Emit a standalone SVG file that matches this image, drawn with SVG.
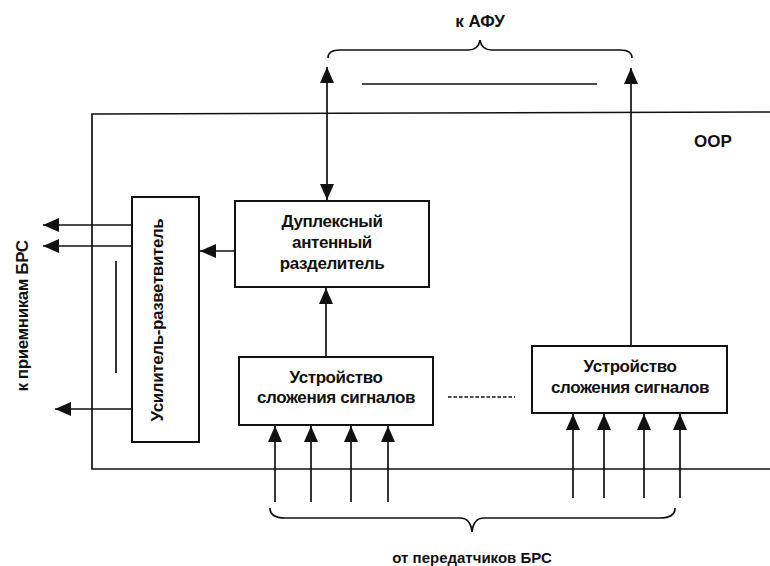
<svg xmlns="http://www.w3.org/2000/svg" width="770" height="566" viewBox="0 0 770 566">
<style>
.box{fill:#fff;stroke:#111;stroke-width:2}
.ln{fill:none;stroke:#111;stroke-width:1.7}
.t{font-family:"Liberation Sans",Arial,sans-serif;font-weight:bold;fill:#111;text-anchor:middle}
.b16{font-size:17px;letter-spacing:-0.4px}
</style>
<defs>
<marker id="ah" viewBox="0 0 16 14" refX="16" refY="7" markerWidth="16" markerHeight="14" markerUnits="userSpaceOnUse" orient="auto-start-reverse">
<path d="M0,0 L16,7 L0,14 z" fill="#111"/>
</marker>
</defs>
<rect width="770" height="566" fill="#fff"/>

<g id="frame">
<path class="ln" d="M770,112 L92,114 L92,469 L770,469" stroke-width="1.5"/>
<text class="t" x="713" y="147" font-size="17">OOP</text>
</g>

<g id="braces">
<path class="ln" d="M328,58 C328,52 332,50 340,50 L468,50 C475,50 479,47 480,40 C481,47 485,50 492,50 L620,50 C628,50 632,52 632,58"/>
<text class="t" x="480" y="27" font-size="17">к АФУ</text>
<path class="ln" d="M362,84 L597,84" stroke-width="1.2"/>
<path class="ln" d="M270,508 C270,515 276,518 285,518 L460,518 C467,518 471,522 472,532 C473,522 477,518 484,518 L660,518 C669,518 675,515 675,508"/>
<text class="t" x="472" y="563" font-size="15">от передатчиков БРС</text>
</g>

<g id="usilitel">
<rect class="box" x="132" y="197" width="67" height="245"/>
<text class="t b16" transform="translate(163,320) rotate(-90)">Усилитель-разветвитель</text>
</g>

<g id="duplex">
<rect class="box" x="235" y="201" width="194" height="86"/>
<text class="t b16" x="332" y="227">Дуплексный</text>
<text class="t b16" x="332" y="248">антенный</text>
<text class="t b16" x="332" y="269">разделитель</text>
</g>

<g id="summer1">
<rect class="box" x="239" y="357" width="194" height="68"/>
<text class="t b16" x="336" y="383">Устройство</text>
<text class="t b16" x="336" y="403">сложения сигналов</text>
</g>

<g id="summer2">
<rect class="box" x="532" y="346" width="195" height="67"/>
<text class="t b16" x="630" y="372">Устройство</text>
<text class="t b16" x="630" y="393">сложения сигналов</text>
</g>

<g id="labels">
<text class="t b16" transform="translate(28,316) rotate(-90)">к приемникам БРС</text>
<path class="ln" d="M116,261 L116,373" stroke-width="1.4"/>
<path class="ln" d="M448,397 L515,397" stroke-width="3.5" stroke-dasharray="3.5 2"/>
</g>

<g id="connectors">
<path class="ln" d="M327,67 L327,200" marker-start="url(#ah)" marker-end="url(#ah)"/>
<path class="ln" d="M631,346 L631,68" marker-end="url(#ah)"/>
<path class="ln" d="M326,357 L326,288" marker-end="url(#ah)"/>
<path class="ln" d="M235,251 L200,251" marker-end="url(#ah)"/>
<path class="ln" d="M132,225 L43,225" marker-end="url(#ah)"/>
<path class="ln" d="M132,246 L43,246" marker-end="url(#ah)"/>
<path class="ln" d="M132,409 L55,409" marker-end="url(#ah)"/>
<path class="ln" d="M275,502 L275,426" marker-end="url(#ah)"/>
<path class="ln" d="M311,502 L311,426" marker-end="url(#ah)"/>
<path class="ln" d="M351,502 L351,426" marker-end="url(#ah)"/>
<path class="ln" d="M388,502 L388,426" marker-end="url(#ah)"/>
<path class="ln" d="M573,498 L573,414" marker-end="url(#ah)"/>
<path class="ln" d="M604,498 L604,414" marker-end="url(#ah)"/>
<path class="ln" d="M644,498 L644,414" marker-end="url(#ah)"/>
<path class="ln" d="M680,498 L680,414" marker-end="url(#ah)"/>
</g>
</svg>
